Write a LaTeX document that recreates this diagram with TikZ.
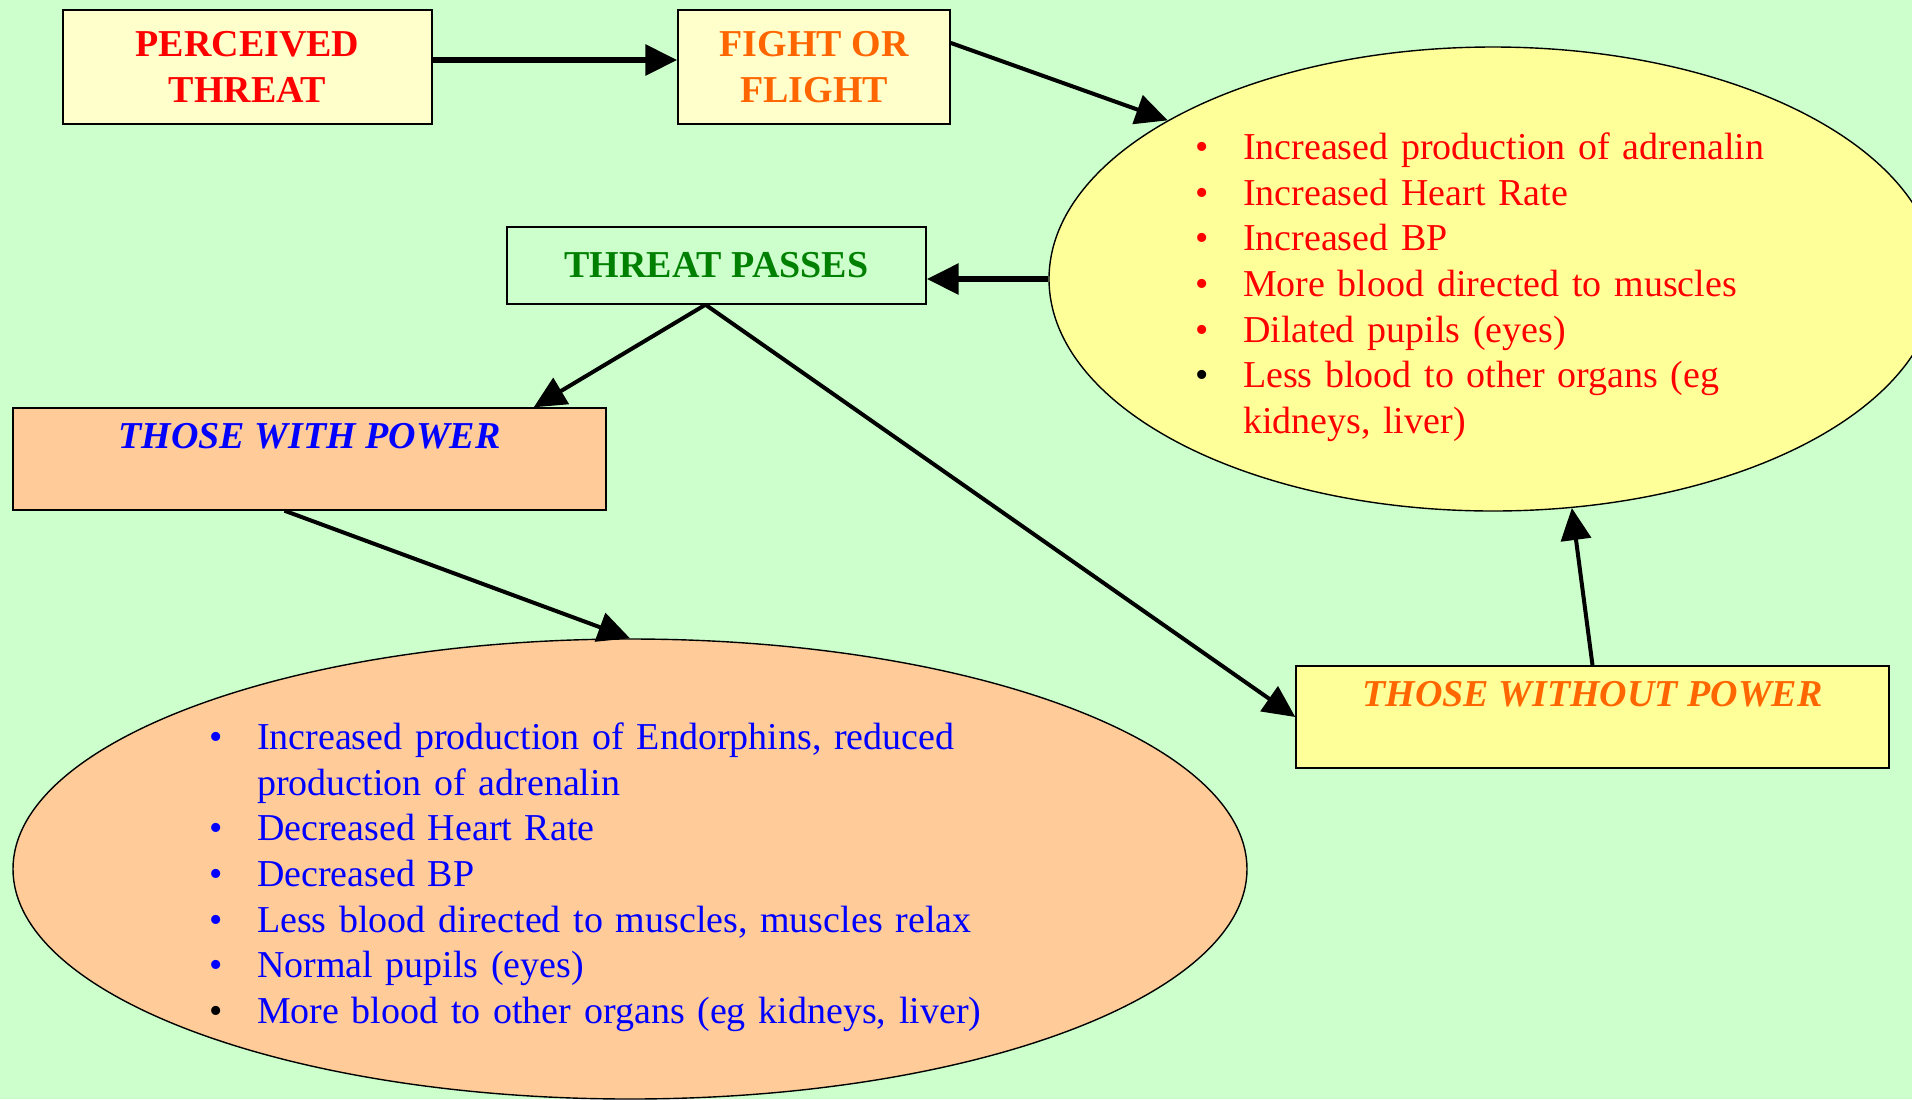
\documentclass[tikz,border=0pt]{standalone}
\usepackage{fontspec}
\setmainfont{Liberation Serif}
\usepackage{tikz}
\usetikzlibrary{calc}
\usetikzlibrary{shapes.geometric}
\usetikzlibrary{arrows.meta}
\definecolor{bgcol}{HTML}{CCFFCC}
\definecolor{cream}{HTML}{FFFFCC}
\definecolor{yelcol}{HTML}{FFFF99}
\definecolor{peach}{HTML}{FFCC99}
\definecolor{redcol}{HTML}{FF0000}
\definecolor{orangecol}{HTML}{FF6600}
\definecolor{greencol}{HTML}{008000}
\definecolor{bluecol}{HTML}{0000FF}
\newcommand{\bodysize}{\fontsize{19}{22.8}\selectfont}
\newcommand{\bul}[2]{\makebox[24pt][l]{\textcolor{#1}{\textbullet}}#2}
\newcommand{\cont}[1]{\hspace*{24pt}#1}
\newcommand{\toppad}{\rule{0pt}{21.5pt}}
\tikzset{
  box/.style={draw, line width=0.7pt, rectangle, inner sep=0pt, align=center, font=\bodysize\bfseries},
  blob/.style={draw, line width=0.7pt, ellipse, inner sep=0pt, align=left, font=\bodysize},
  arr/.style={line width=2pt, -{Triangle[length=16pt,width=15pt]}},
  thickarr/.style={arr, line width=3pt},
}

\begin{document}
\begin{tikzpicture}[x=0.5pt,y=-0.5pt]
        \useasboundingbox (0,0) rectangle (1912,1099);
        \fill[bgcol] (0,0) rectangle (1912,1099);
        % boxes
        \node[box, fill=cream, text=redcol, minimum width=184.5pt, minimum height=57pt] (perc) at (247.5,67) {PERCEIVED\\THREAT};
        \node[box, fill=cream, text=orangecol, minimum width=136pt, minimum height=57pt] (fight) at (814,67) {FIGHT OR\\FLIGHT};
        \node[box, fill=bgcol, text=greencol, minimum width=209.5pt, minimum height=38.5pt] (tp) at (716.5,265.5) {THREAT PASSES};
        \node[box, fill=peach, text=bluecol, font=\bodysize\bfseries\itshape, minimum width=296.5pt, minimum height=51pt] (with) at (309.5,459) {THOSE WITH POWER\\\mbox{}};
        \node[box, fill=yelcol, text=orangecol, font=\bodysize\bfseries\itshape, minimum width=296.5pt, minimum height=51pt] (without) at (1592.5,717) {THOSE WITHOUT POWER\\\mbox{}};
        % ellipses
        \node[blob, fill=yelcol, text=redcol, text width=298pt, minimum width=444pt, minimum height=232pt] (yel) at (1493,279) {%
          \toppad\bul{redcol}{Increased production of adrenalin}\\
          \bul{redcol}{Increased Heart Rate}\\
          \bul{redcol}{Increased BP}\\
          \bul{redcol}{More blood directed to muscles}\\
          \bul{redcol}{Dilated pupils (eyes)}\\
          \bul{black}{Less blood to other organs (eg}\\
          \cont{kidneys, liver)}};
        \node[blob, fill=peach, text=bluecol, text width=421pt, minimum width=617pt, minimum height=230pt] (low) at (630,869) {%
          \toppad\bul{bluecol}{Increased production of Endorphins, reduced}\\
          \cont{production of adrenalin}\\
          \bul{bluecol}{Decreased Heart Rate}\\
          \bul{bluecol}{Decreased BP}\\
          \bul{bluecol}{Less blood directed to muscles, muscles relax}\\
          \bul{bluecol}{Normal pupils (eyes)}\\
          \bul{black}{More blood to other organs (eg kidneys, liver)}};
        % arrows
        \draw[thickarr] ([yshift=3.5pt]perc.east) -- ([yshift=3.5pt]fight.west);
        \draw[arr] (fight.10) -- (yel.154);
        \draw[thickarr] (yel.west) -- (yel.west -| tp.east);
        \coordinate (split) at ([xshift=-5.5pt]tp.south);
        \draw[arr] (split) -- ([xshift=-36.5pt]with.north east);
        \draw[arr] (split) -- (without.west);
        \draw[arr] ([xshift=-12.5pt]with.south) -- (low.north);
        \draw[arr] (without.north) -- (yel.-71);
    \end{tikzpicture}
\end{document}
